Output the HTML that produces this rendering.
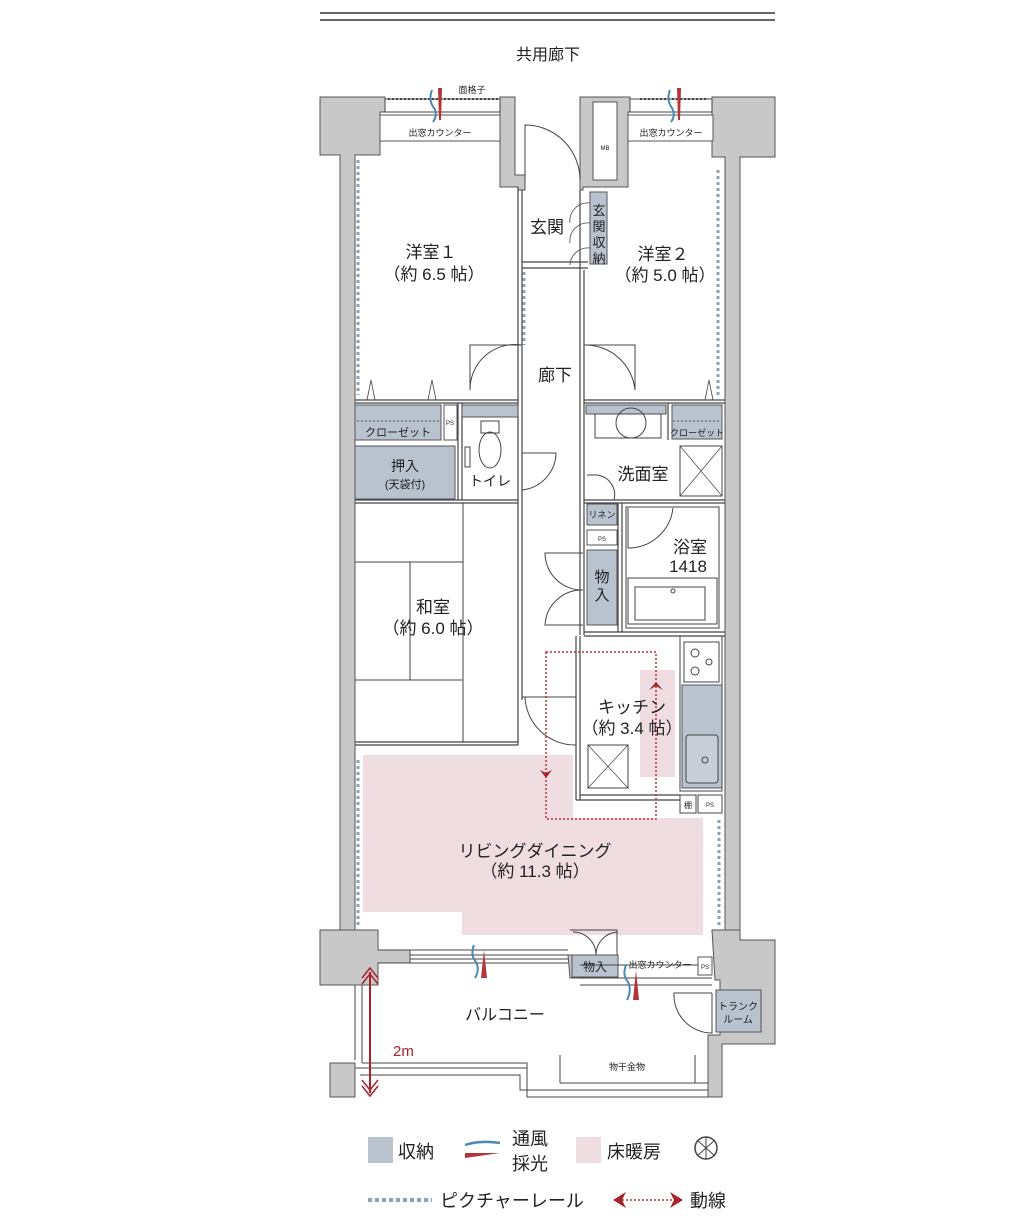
<!DOCTYPE html>
<html><head><meta charset="utf-8"><style>
html,body{margin:0;padding:0;background:#fff}
svg{display:block}
text{font-family:"Liberation Sans","Noto Sans CJK JP",sans-serif;fill:#222}
</style></head><body>
<svg width="1035" height="1224" viewBox="0 0 1035 1224" xmlns="http://www.w3.org/2000/svg">
<g stroke="#333" stroke-width="1" fill="none">
<line x1="320" y1="13" x2="775" y2="13" stroke-width="1.5"/>
<line x1="320" y1="20" x2="775" y2="20" stroke-width="1.5"/>
</g>
<text x="548" y="60" font-size="16" text-anchor="middle">共用廊下</text>

<path d="M363,755 H573 V818 H703 V935 H462 V912 H363 Z" fill="#efdde2"/>
<rect x="640" y="670" width="35" height="107" fill="#efdde2"/>

<g fill="#c8c8c8" stroke="#555" stroke-width="1">
<path d="M320,97 H385 V112 H380 V155 H355 V930 H340 V155 H320 Z"/>
<path d="M500,97 H515 V175 H525 V190 H518 V187 H500 Z"/>
<path d="M580,97 H630 V112 H628 V187 H583 V190 H580 Z"/>
<path d="M712,97 H775 V157 H740 V930 H725 V157 H712 Z"/>
<path d="M320,930 H378 V950 H410 V963 H378 V985 H320 Z"/>
<path d="M712,930 H740 V940 H775 V1044 H722 V1097 H708 V1035 H720 V980 H715 Z"/>
<path d="M330,1063 H355 V1097 H330 Z"/>
<path d="M568,955 H580 V978 H570 Z"/>
</g>
<rect x="593" y="102" width="24" height="78" fill="#fff" stroke="#555"/>
<text x="605" y="150" font-size="6" text-anchor="middle">MB</text>

<g stroke="#444" stroke-width="1" fill="#fff">
<rect x="385" y="99" width="115" height="13"/>
<rect x="630" y="99" width="82" height="13"/>
</g>
<line x1="388" y1="99" x2="498" y2="99" stroke="#444" stroke-width="2" stroke-dasharray="2,2"/>
<line x1="640" y1="99" x2="707" y2="99" stroke="#444" stroke-width="2" stroke-dasharray="2,2"/>
<text x="472" y="93" font-size="9" text-anchor="middle">面格子</text>
<g fill="#fff" stroke="#555">
<rect x="380" y="115" width="120" height="26"/>
<rect x="628" y="115" width="85" height="26"/>
</g>
<text x="440" y="136" font-size="9" text-anchor="middle">出窓カウンター</text>
<text x="671" y="136" font-size="9" text-anchor="middle">出窓カウンター</text>

<g stroke="#444" stroke-width="1.2" fill="none">
<line x1="518" y1="187" x2="518" y2="745"/><line x1="522" y1="190" x2="522" y2="700"/>
<line x1="580" y1="190" x2="580" y2="635"/><line x1="584" y1="270" x2="584" y2="635"/>
<line x1="522" y1="262" x2="588" y2="262"/><line x1="522" y1="268" x2="588" y2="268"/>
<line x1="355" y1="400" x2="518" y2="400"/><line x1="355" y1="403" x2="518" y2="403"/>
<line x1="584" y1="400" x2="725" y2="400"/><line x1="584" y1="403" x2="725" y2="403"/>
<line x1="355" y1="742" x2="518" y2="742"/><line x1="355" y1="745" x2="518" y2="745"/>
<line x1="584" y1="500" x2="725" y2="500"/><line x1="584" y1="503" x2="725" y2="503"/>
<line x1="618" y1="503" x2="618" y2="632"/><line x1="622" y1="503" x2="622" y2="632"/>
<line x1="584" y1="632" x2="725" y2="632"/><line x1="584" y1="636" x2="725" y2="636"/>
<line x1="576" y1="636" x2="576" y2="800"/><line x1="580" y1="636" x2="580" y2="800"/>
<line x1="576" y1="800" x2="680" y2="800"/>
<line x1="580" y1="795" x2="680" y2="795"/>
<line x1="458" y1="403" x2="458" y2="500"/><line x1="462" y1="403" x2="462" y2="500"/>
<line x1="355" y1="500" x2="518" y2="500"/><line x1="355" y1="503" x2="518" y2="503"/>
<line x1="668" y1="403" x2="668" y2="440"/>
</g>

<g stroke="#444" stroke-width="1" fill="none">
<path d="M525,182 V125 A55,55 0 0 1 580,180"/>
<path d="M522,345 H470 V390 A45,45 0 0 1 522,345"/>
<path d="M584,345 H635 V390 A50,50 0 0 0 584,345"/>
<path d="M522,453 H556 A38,38 0 0 1 522,490"/>
<path d="M587,475 H597 A20,20 0 0 1 614,500 H587"/>
<path d="M628,508 V548 A45,45 0 0 0 673,508"/>
<path d="M583,553 H545 A37,37 0 0 0 583,590 M583,625 H545 A37,37 0 0 1 583,590"/>
<path d="M522,697 H576 V745 A50,50 0 0 1 525,697"/>
<path d="M570,930 H617 V955 M596,955 A23,23 0 0 0 573,932 M596,955 A23,23 0 0 1 617,932"/>
<path d="M712,993 V1033 A38,38 0 0 1 674,993 H712"/>
</g>
<g stroke="#444" stroke-width="0.8" fill="none">
<path d="M367,400 L371,380 L375,400 M428,400 L432,380 L436,400 M705,400 L709,380 L713,400"/>
<path d="M590,203 A18,18 0 0 0 570,223 M590,223 A18,18 0 0 0 570,243 M590,248 A18,18 0 0 0 570,265"/>
</g>

<g fill="#b9c3d0" stroke="#555" stroke-width="1">
<rect x="590" y="192" width="17" height="72"/>
<rect x="355" y="405" width="86" height="35"/>
<rect x="355" y="446" width="100" height="53"/>
<rect x="462" y="405" width="56" height="12"/>
<rect x="586" y="405" width="80" height="9"/>
<rect x="672" y="405" width="50" height="34"/>
<rect x="587" y="504" width="30" height="21"/>
<rect x="587" y="550" width="30" height="75"/>
<rect x="682" y="685" width="40" height="103"/>
<rect x="572" y="955" width="46" height="22"/>
<rect x="716" y="990" width="45" height="42"/>
</g>
<line x1="357" y1="421" x2="440" y2="421" stroke="#555" stroke-dasharray="2,2"/>
<line x1="673" y1="421" x2="721" y2="421" stroke="#555" stroke-dasharray="2,2"/>
<rect x="444" y="405" width="13" height="35" fill="#fff" stroke="#555"/>
<text x="450" y="425" font-size="6" text-anchor="middle">PS</text>
<text x="398" y="436" font-size="11" text-anchor="middle">クローゼット</text>
<text x="697" y="436" font-size="9" text-anchor="middle">クローゼット</text>
<text x="405" y="471" font-size="14" text-anchor="middle">押入</text>
<text x="405" y="488" font-size="11" text-anchor="middle">(天袋付)</text>

<g stroke="#444" fill="none">
<rect x="481" y="421" width="18" height="12"/>
<ellipse cx="490" cy="450" rx="11" ry="18"/>
<rect x="465" y="447" width="5" height="20"/>
</g>
<text x="490" y="486" font-size="14" text-anchor="middle">トイレ</text>

<g stroke="#444" fill="none">
<rect x="595" y="414" width="66" height="24"/>
<circle cx="631" cy="423" r="15"/>
<rect x="680" y="446" width="42" height="50"/>
<path d="M680,446 L722,496 M722,446 L680,496" stroke-width="0.7"/>
</g>
<text x="643" y="480" font-size="17" text-anchor="middle">洗面室</text>
<text x="602" y="518" font-size="9" text-anchor="middle">リネン</text>
<rect x="587" y="530" width="30" height="15" fill="#fff" stroke="#555"/>
<text x="602" y="541" font-size="6" text-anchor="middle">PS</text>
<text x="602" y="582" font-size="15" text-anchor="middle">物</text>
<text x="602" y="600" font-size="15" text-anchor="middle">入</text>

<g stroke="#444" fill="none">
<rect x="626" y="507" width="93" height="121"/>
<rect x="628" y="578" width="89" height="46"/>
<rect x="635" y="587" width="70" height="33"/>
<circle cx="673" cy="591" r="2"/>
</g>
<text x="690" y="553" font-size="17" text-anchor="middle">浴室</text>
<text x="688" y="572" font-size="17" text-anchor="middle">1418</text>

<g stroke="#444" fill="none">
<rect x="680" y="636" width="42" height="155"/>
<rect x="684" y="642" width="35" height="40"/>
<circle cx="695" cy="653" r="4"/><circle cx="695" cy="671" r="4"/><circle cx="709" cy="662" r="3"/>
<rect x="686" y="735" width="32" height="48" rx="3" fill="#c8ced6"/>
<circle cx="705" cy="760" r="3"/>
<rect x="588" y="745" width="40" height="43"/>
<path d="M588,745 L628,788 M628,745 L588,788" stroke-width="0.7"/>
<rect x="680" y="795" width="16" height="18"/>
<rect x="698" y="795" width="24" height="18"/>
</g>
<text x="688" y="808" font-size="8" text-anchor="middle">棚</text>
<text x="710" y="807" font-size="6" text-anchor="middle">PS</text>

<g stroke="#444" stroke-width="1">
<line x1="463" y1="503" x2="463" y2="742"/>
<line x1="410" y1="562" x2="410" y2="680"/>
<line x1="355" y1="562" x2="463" y2="562"/>
<line x1="355" y1="680" x2="463" y2="680"/>
</g>

<g stroke="#8aa2b6" stroke-width="3" stroke-dasharray="3,3" fill="none">
<line x1="358" y1="160" x2="358" y2="395"/>
<line x1="718" y1="170" x2="718" y2="395"/>
<line x1="524" y1="272" x2="524" y2="345"/>
<line x1="358" y1="760" x2="358" y2="925"/>
<line x1="719" y1="820" x2="719" y2="925"/>
</g>

<g stroke="#444" fill="none" stroke-width="1">
<path d="M378,950 H568 M378,963 H568"/>
<path d="M410,955 H568 M410,959 H568"/>
<path d="M580,965 H712 M580,978 H712 M580,985 H712"/>
<path d="M355,985 V1060 M362,985 V1063"/>
<path d="M362,1063 H527 V1097 H708"/>
<path d="M355,1068 H527 M360,1075 H520 V1090 H708"/>
<path d="M560,1055 V1083 M695,1055 V1083 M560,1083 H708"/>
</g>
<rect x="698" y="957" width="14" height="18" fill="#fff" stroke="#555"/>
<text x="705" y="969" font-size="6" text-anchor="middle">PS</text>
<text x="595" y="971" font-size="12" text-anchor="middle">物入</text>
<text x="660" y="968" font-size="9" text-anchor="middle">出窓カウンター</text>
<text x="738" y="1010" font-size="10" text-anchor="middle">トランク</text>
<text x="738" y="1023" font-size="10" text-anchor="middle">ルーム</text>
<text x="505" y="1020" font-size="16" text-anchor="middle">バルコニー</text>
<text x="627" y="1070" font-size="9" text-anchor="middle">物干金物</text>
<line x1="370" y1="972" x2="370" y2="1093" stroke="#a8222a" stroke-width="2"/>
<path d="M362,978 L370,968 L378,978 M362,984 L370,974 L378,984 M362,1086 L370,1096 L378,1086 M362,1080 L370,1090 L378,1080" stroke="#a8222a" stroke-width="1.5" fill="none"/>
<text x="393" y="1056" font-size="15" style="fill:#a8222a">2m</text>

<g stroke-width="2" fill="none">
<path d="M432,90 Q428,100 434,108 Q438,115 433,122" stroke="#4a8ab0"/>
<path d="M670,90 Q666,100 672,108 Q676,115 671,122" stroke="#4a8ab0"/>
<path d="M474,945 Q470,955 476,962 Q480,970 475,978" stroke="#4a8ab0"/>
<path d="M626,965 Q622,975 628,982 Q632,990 627,1000" stroke="#4a8ab0"/>
</g>
<g fill="#b5343a">
<path d="M438,88 H442 L441,120 H439 Z"/><path d="M677,88 H681 L680,120 H678 Z"/>
<path d="M484,950 L487,978 H481 Z"/><path d="M636,970 L639,1000 H633 Z"/>
</g>

<rect x="546" y="652" width="110" height="167" fill="none" stroke="#b5343a" stroke-width="1.5" stroke-dasharray="2,2"/>
<path d="M540,770 L546,778 L552,770 L546,773Z M649,690 L656,682 L663,690 L656,686Z" fill="#a8222a"/>

<text x="431" y="258" font-size="17" text-anchor="middle">洋室１</text>
<text x="434" y="280" font-size="17" text-anchor="middle">（約 6.5 帖）</text>
<text x="547" y="233" font-size="17" text-anchor="middle">玄関</text>
<text x="599" y="215" font-size="13" text-anchor="middle">玄</text>
<text x="599" y="231" font-size="13" text-anchor="middle">関</text>
<text x="599" y="247" font-size="13" text-anchor="middle">収</text>
<text x="599" y="263" font-size="13" text-anchor="middle">納</text>
<text x="663" y="260" font-size="17" text-anchor="middle">洋室２</text>
<text x="665" y="281" font-size="17" text-anchor="middle">（約 5.0 帖）</text>
<text x="555" y="381" font-size="17" text-anchor="middle">廊下</text>
<text x="433" y="613" font-size="17" text-anchor="middle">和室</text>
<text x="433" y="634" font-size="17" text-anchor="middle">（約 6.0 帖）</text>
<text x="632" y="713" font-size="17" text-anchor="middle">キッチン</text>
<text x="632" y="734" font-size="17" text-anchor="middle">（約 3.4 帖）</text>
<text x="535" y="857" font-size="17" text-anchor="middle">リビングダイニング</text>
<text x="535" y="877" font-size="17" text-anchor="middle">（約 11.3 帖）</text>

<rect x="368" y="1137" width="25" height="26" fill="#b9c3d0"/>
<text x="398" y="1158" font-size="18">収納</text>
<path d="M465,1145 Q480,1140 500,1143" stroke="#4a8ab0" stroke-width="2.5" fill="none"/>
<path d="M465,1153 H500 L465,1158Z" fill="#b5343a"/>
<text x="512" y="1145" font-size="18">通風</text>
<text x="512" y="1170" font-size="18">採光</text>
<rect x="576" y="1137" width="25" height="26" fill="#efdde2"/>
<text x="607" y="1158" font-size="18">床暖房</text>
<circle cx="706" cy="1148" r="11" fill="none" stroke="#444" stroke-width="1.5"/>
<path d="M697,1140 L715,1156 M715,1140 L697,1156 M706,1137 L706,1159" stroke="#444"/>
<line x1="368" y1="1200" x2="432" y2="1200" stroke="#8aa2b6" stroke-width="4" stroke-dasharray="4,3"/>
<text x="440" y="1207" font-size="18">ピクチャーレール</text>
<line x1="622" y1="1200" x2="672" y2="1200" stroke="#b5343a" stroke-width="1.5" stroke-dasharray="2,2"/>
<path d="M626,1192 L613,1200 L626,1208 L622,1200Z M670,1192 L683,1200 L670,1208 L674,1200Z" fill="#a8222a"/>
<text x="690" y="1207" font-size="18">動線</text>
</svg>
</body></html>
